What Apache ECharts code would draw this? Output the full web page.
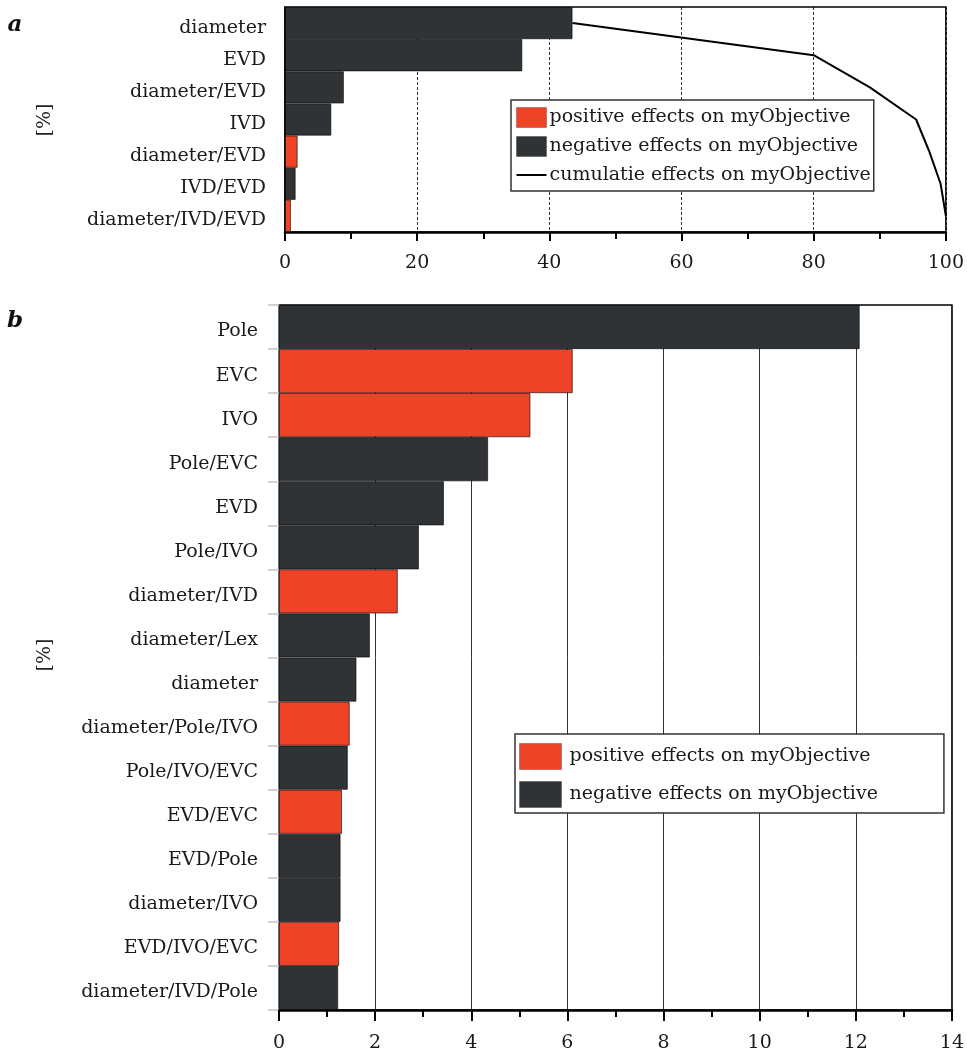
<!DOCTYPE html>
<html>
<head>
<meta charset="utf-8">
<script src="https://cdn.jsdelivr.net/npm/echarts@6/dist/echarts.min.js"></script>
<style>
  html, body { margin: 0; padding: 0; background: #fff; }
  #chart { width: 967px; height: 1053px; }
</style>
</head>
<body>
<div id="chart"></div>
<script>
// Panel a: main interaction effects (share of total effect, %)
const topCategories = ['diameter', 'EVD', 'diameter/EVD', 'IVD', 'diameter/EVD', 'IVD/EVD', 'diameter/IVD/EVD'];
const topPositive   = ['-', '-', '-', '-', 1.9, '-', 0.9];
const topNegative   = [43.5, 35.9, 8.9, 7.0, '-', 1.6, '-'];
const topCumulative = [43.5, 80.0, 88.5, 95.5, 97.5, 99.2, 100];
const topTicks = { min: 0, max: 100, interval: 20 };

// Panel b: effects on myObjective (%)
const bottomCategories = ['Pole', 'EVC', 'IVO', 'Pole/EVC', 'EVD', 'Pole/IVO', 'diameter/IVD', 'diameter/Lex',
  'diameter', 'diameter/Pole/IVO', 'Pole/IVO/EVC', 'EVD/EVC', 'EVD/Pole', 'diameter/IVO', 'EVD/IVO/EVC', 'diameter/IVD/Pole'];
const bottomPositive = ['-', 6.11, 5.23, '-', '-', '-', 2.47, '-', '-', 1.47, '-', 1.31, '-', '-', 1.25, '-'];
const bottomNegative = [12.08, '-', '-', 4.35, 3.43, 2.91, '-', 1.89, 1.61, '-', 1.43, '-', 1.28, 1.28, '-', 1.23];
const bottomTicks = { min: 0, max: 14, interval: 2 };

const POS = 'positive effects on myObjective';
const NEG = 'negative effects on myObjective';
const CUM = 'cumulatie effects on myObjective';
const RED = '#EE4326';
const DARK = '#2F3336';
const FONT = 'DejaVu Serif';
// legend glyph for the cumulative line: a 2px stroke across a 30x20 box
const LINE_ICON = 'path://M0,0 M0,9 L30,9 L30,11 L0,11 Z M30,20';

const chart = echarts.init(document.getElementById('chart'), null, { renderer: 'canvas' });

const labelStyle = { fontFamily: FONT, fontSize: 19, color: '#1a1a1a' };
// category labels sit a little below the band centre
const categoryLabel = { ...labelStyle, verticalAlign: 'top', lineHeight: 9 };

function barSeries(name, data, idx, stack) {
  return {
    name, type: 'bar', stack, data,
    xAxisIndex: idx, yAxisIndex: idx,
    barCategoryGap: '0%',
    itemStyle: { color: name === POS ? RED : DARK, borderColor: 'rgba(0,0,0,0.75)', borderWidth: 0.8 },
    emphasis: { disabled: true },
    z: 3
  };
}

const swatch = { borderColor: 'rgba(0,0,0,0.25)', borderWidth: 1 };

chart.setOption({
  animation: false,
  backgroundColor: '#fff',
  textStyle: { fontFamily: FONT },
  grid: [
    { left: 285, top: 7, width: 661, height: 225, show: true, borderColor: '#000', borderWidth: 1.5 },
    { left: 279, top: 305, width: 673, height: 706, show: true, borderColor: '#000', borderWidth: 1.5 }
  ],
  xAxis: [
    {
      gridIndex: 0, type: 'value', ...topTicks,
      axisLine: { show: true, lineStyle: { color: '#000', width: 2.5 } },
      axisTick: { show: true, length: 9, lineStyle: { color: '#000', width: 2 } },
      minorTick: { show: true, splitNumber: 2, length: 7, lineStyle: { color: '#000', width: 2 } },
      axisLabel: { ...labelStyle, margin: 22 },
      splitLine: { show: true, lineStyle: { color: '#000', width: 0.8, type: [3, 2] } }
    },
    {
      gridIndex: 1, type: 'value', ...bottomTicks,
      axisLine: { show: true, lineStyle: { color: '#000', width: 2.5 } },
      axisTick: { show: true, length: 11, lineStyle: { color: '#000', width: 2 } },
      minorTick: { show: true, splitNumber: 2, length: 7, lineStyle: { color: '#000', width: 2 } },
      axisLabel: { ...labelStyle, margin: 24 },
      splitLine: { show: true, lineStyle: { color: '#333', width: 1 } }
    }
  ],
  yAxis: [
    {
      gridIndex: 0, type: 'category', data: topCategories, inverse: true,
      axisLine: { show: true, lineStyle: { color: '#000', width: 1.5 } },
      axisTick: { show: false },
      axisLabel: { ...categoryLabel, margin: 19 },
      splitLine: { show: false }
    },
    {
      gridIndex: 1, type: 'category', data: bottomCategories, inverse: true,
      axisLine: { show: true, lineStyle: { color: '#888', width: 1.5 } },
      axisTick: { show: true, length: 11, lineStyle: { color: '#c4c4c4', width: 1.5 } },
      axisLabel: { ...categoryLabel, margin: 21 },
      splitLine: { show: false }
    }
  ],
  legend: [
    {
      orient: 'vertical', left: 511, top: 100,
      data: [
        { name: POS, icon: 'rect', itemStyle: swatch },
        { name: NEG, icon: 'rect', itemStyle: swatch },
        { name: CUM, icon: LINE_ICON }
      ],
      itemWidth: 30, itemHeight: 20, itemGap: 8,
      padding: [7, 3, 6, 5],
      backgroundColor: '#fff', borderColor: '#333', borderWidth: 1.5, borderRadius: 0,
      textStyle: { ...labelStyle, padding: [0, 0, 0, -2] },
      selectedMode: false, z: 10
    },
    {
      orient: 'vertical', left: 515, top: 734,
      data: [
        { name: POS, icon: 'rect', itemStyle: swatch },
        { name: NEG, icon: 'rect', itemStyle: swatch }
      ],
      itemWidth: 42, itemHeight: 26, itemGap: 11,
      padding: [9, 66, 5, 4],
      backgroundColor: '#fff', borderColor: '#333', borderWidth: 1.5, borderRadius: 0,
      textStyle: { ...labelStyle, padding: [0, 0, 0, 3] },
      selectedMode: false, z: 10
    }
  ],
  series: [
    barSeries(POS, topPositive, 0, 'a'),
    barSeries(NEG, topNegative, 0, 'a'),
    {
      name: CUM, type: 'line', data: topCumulative,
      xAxisIndex: 0, yAxisIndex: 0,
      symbol: 'none',
      lineStyle: { color: '#000', width: 2 },
      itemStyle: { color: '#000' },
      z: 5
    },
    barSeries(POS, bottomPositive, 1, 'b'),
    barSeries(NEG, bottomNegative, 1, 'b')
  ],
  graphic: [
    { type: 'text', x: 15, y: 25, style: { text: 'a', fontFamily: FONT, fontSize: 23, fontWeight: 'bold', fontStyle: 'italic', fill: '#111', align: 'center', verticalAlign: 'middle' } },
    { type: 'text', x: 15, y: 321, style: { text: 'b', fontFamily: FONT, fontSize: 23, fontWeight: 'bold', fontStyle: 'italic', fill: '#111', align: 'center', verticalAlign: 'middle' } },
    { type: 'text', x: 45, y: 120, rotation: Math.PI / 2, style: { text: '[%]', fontFamily: FONT, fontSize: 19, fill: '#222', align: 'center', verticalAlign: 'middle' } },
    { type: 'text', x: 45, y: 655, rotation: Math.PI / 2, style: { text: '[%]', fontFamily: FONT, fontSize: 19, fill: '#222', align: 'center', verticalAlign: 'middle' } }
  ]
});
</script>
</body>
</html>
